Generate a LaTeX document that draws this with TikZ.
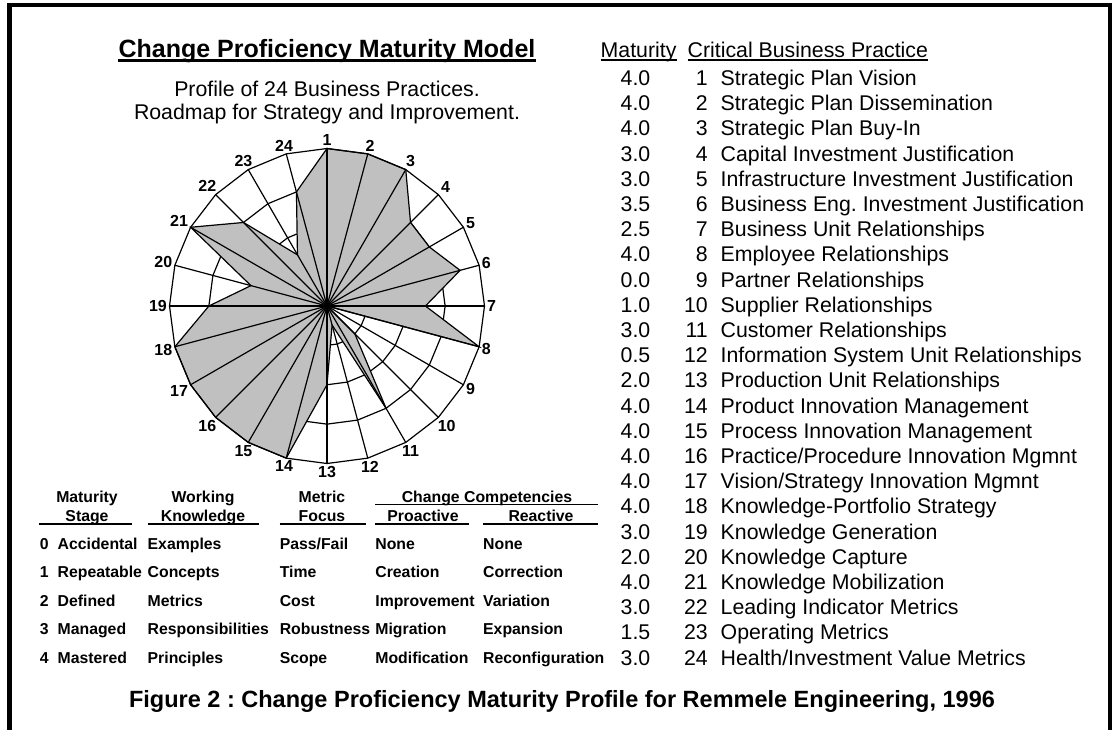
\documentclass[tikz,border=0pt]{standalone}
\usepackage{fontspec}
\setmainfont{Liberation Sans}
\usetikzlibrary{calc}
\definecolor{fillgray}{RGB}{192,192,192}
\frenchspacing
\begin{document}
\begin{tikzpicture}[x=1pt,y=-1pt,
  ttl/.style={font=\fontsize{25}{29}\selectfont\bfseries, inner sep=0pt, anchor=base},
  sub/.style={font=\fontsize{21.3}{25}\selectfont, inner sep=0pt, anchor=base},
  lst/.style={font=\fontsize{21.3}{25}\selectfont, inner sep=0pt, anchor=base west},
  lstn/.style={font=\fontsize{21.3}{25}\selectfont, inner sep=0pt, anchor=base east},
  tb/.style={font=\fontsize{15.8}{18}\selectfont\bfseries, inner sep=0pt, anchor=base west},
  tbh/.style={font=\fontsize{15.8}{18}\selectfont\bfseries, inner sep=0pt, anchor=base},
  captxt/.style={font=\fontsize{23.5}{27}\selectfont\bfseries, inner sep=0pt, anchor=base},
  lab/.style={font=\fontsize{16}{18}\selectfont\bfseries, inner sep=2.5pt},
  ul/.style={line width=1.6pt},
  gridline/.style={line width=1.2pt},
]
\useasboundingbox (0,0) rectangle (1112,729);
\fill[white] (0,0) rectangle (1112,729);
% frame
\coordinate (fbl) at (9.5,740);
\coordinate (ftl) at (9.5,5.3);
\coordinate (ftr) at (1110,5.3);
\coordinate (fbr) at (1110,740);
\draw[line width=4.3pt, line join=miter] (fbl) -- (ftl) -- (ftr) -- (fbr);

% title block
\node[ttl] (title) at (327,57) {Change Proficiency Maturity Model};
\draw[line width=2.2pt] ($(title.base west)+(0,3.5)$) -- ($(title.base east)+(0,3.5)$);
\node[sub] (sub1) at (327,96) {Profile of 24 Business Practices.};
\node[sub] (sub2) at (327,119) {Roadmap for Strategy and Improvement.};

% radar chart
\coordinate (c) at (327,306);
\def\R{157.5}
\foreach \i/\v in {1/4,2/4,3/4,4/3,5/3,6/3.5,7/2.5,8/4,9/0,10/1,11/3,12/0.5,13/2,14/4,15/4,16/4,17/4,18/4,19/3,20/2,21/4,22/3,23/1.5,24/3}{
  \pgfmathsetmacro\a{90-(\i-1)*15}
  \coordinate (o\i) at ($(c)+({\R*cos(\a)},{-\R*sin(\a)})$);
  \coordinate (p\i) at ($(c)+({\v*\R/4*cos(\a)},{-\v*\R/4*sin(\a)})$);
  \coordinate (ra\i) at ($(c)+({\R/4*cos(\a)},{-\R/4*sin(\a)})$);
  \coordinate (rb\i) at ($(c)+({\R/2*cos(\a)},{-\R/2*sin(\a)})$);
  \coordinate (rc\i) at ($(c)+({3*\R/4*cos(\a)},{-3*\R/4*sin(\a)})$);
}
\draw[gridline] (ra1) \foreach \i in {2,...,24}{ -- (ra\i)} -- cycle;
\draw[gridline] (rb1) \foreach \i in {2,...,24}{ -- (rb\i)} -- cycle;
\draw[gridline] (rc1) \foreach \i in {2,...,24}{ -- (rc\i)} -- cycle;
\filldraw[fill=fillgray, draw=black, gridline, line join=miter] (p1) \foreach \i in {2,...,24}{ -- (p\i)} -- cycle;
\foreach \i in {1,...,24}{ \draw[gridline] (c) -- (o\i); }
\draw[gridline] (o1) \foreach \i in {2,...,24}{ -- (o\i)} -- cycle;
\foreach \i in {1,...,24}{
  \pgfmathtruncatemacro\an{mod(90-(\i-1)*15+180+720,360)}
  \node[lab, anchor=\an] (l\i) at (o\i) {\i};
}

% table headers
\node[tbh] (h1a) at (87,502) {Maturity};
\node[tbh] (h1b) at (87,521) {Stage};
\node[tbh] (h2a) at (203,502) {Working};
\node[tbh] (h2b) at (203,521) {Knowledge};
\node[tbh] (h3a) at (322,502) {Metric};
\node[tbh] (h3b) at (322,521) {Focus};
\node[tbh] (h4a) at (487,502) {Change Competencies};
\node[tbh] (h4b) at (423,521) {Proactive};
\node[tbh] (h5b) at (541,521) {Reactive};
\draw[ul] (38.6,524) -- (131.7,524);
\draw[ul] (147.5,524) -- (258.5,524);
\draw[ul] (279.6,524) -- (366.3,524);
\draw[ul] (375.2,524) -- (469.1,524);
\draw[ul] (483,524) -- (598,524);
\draw[ul] (375.2,504.5) -- (598,504.5);

% table rows
\foreach \r/\s/\w/\m/\p/\q in {0/Accidental/Examples/Pass\slash Fail/None/None,
  1/Repeatable/Concepts/Time/Creation/Correction,
  2/Defined/Metrics/Cost/Improvement/Variation,
  3/Managed/Responsibilities/Robustness/Migration/Expansion,
  4/Mastered/Principles/Scope/Modification/Reconfiguration}{
  \pgfmathsetmacro\yy{549+28.5*\r}
  \node[tb] (td\r) at (39.6,\yy) {\r};
  \node[tb] (ts\r) at (57.5,\yy) {\s};
  \node[tb] (tw\r) at (147.5,\yy) {\w};
  \node[tb] (tm\r) at (279.6,\yy) {\m};
  \node[tb] (tp\r) at (375.2,\yy) {\p};
  \node[tb] (tq\r) at (483,\yy) {\q};
}

% list header
\node[lst] (mh) at (600.5,57) {Maturity};
\draw[ul] ($(mh.base west)+(0,3)$) -- ($(mh.base east)+(0,3)$);
\node[lst] (ch) at (687.5,57) {Critical Business Practice};
\draw[ul] ($(ch.base west)+(0,3)$) -- ($(ch.base east)+(0,3)$);

% list rows
\foreach \k/\v/\t in {1/4.0/Strategic Plan Vision,
  2/4.0/Strategic Plan Dissemination,
  3/4.0/Strategic Plan Buy-In,
  4/3.0/Capital Investment Justification,
  5/3.0/Infrastructure Investment Justification,
  6/3.5/Business Eng. Investment Justification,
  7/2.5/Business Unit Relationships,
  8/4.0/Employee Relationships,
  9/0.0/Partner Relationships,
  10/1.0/Supplier Relationships,
  11/3.0/Customer Relationships,
  12/0.5/Information System Unit Relationships,
  13/2.0/Production Unit Relationships,
  14/4.0/Product Innovation Management,
  15/4.0/Process Innovation Management,
  16/4.0/Practice\slash Procedure Innovation Mgmnt,
  17/4.0/Vision\slash Strategy Innovation Mgmnt,
  18/4.0/Knowledge-Portfolio Strategy,
  19/3.0/Knowledge Generation,
  20/2.0/Knowledge Capture,
  21/4.0/Knowledge Mobilization,
  22/3.0/Leading Indicator Metrics,
  23/1.5/Operating Metrics,
  24/3.0/Health\slash Investment Value Metrics}{
  \pgfmathsetmacro\yy{85.5+25.2*(\k-1)}
  \node[lst] (lv\k) at (620.5,\yy) {\v};
  \node[lstn] (ln\k) at (708,\yy) {\k};
  \node[lst] (lt\k) at (720.5,\yy) {\t};
}

% caption
\node[captxt] (caption) at (562,707) {Figure 2 : Change Proficiency Maturity Profile for Remmele Engineering, 1996};
\end{tikzpicture}
\end{document}
